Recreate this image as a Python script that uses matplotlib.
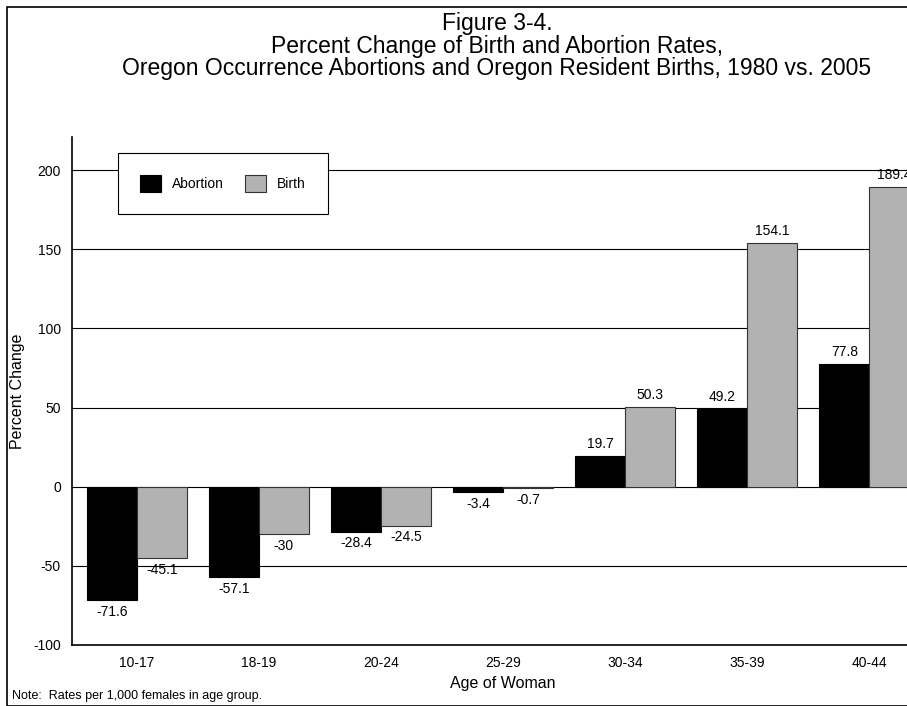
import matplotlib
matplotlib.use("Agg")
import matplotlib.pyplot as plt
from matplotlib.patches import Rectangle
import numpy as np

categories = ["10-17", "18-19", "20-24", "25-29", "30-34", "35-39", "40-44"]
abortion = [-71.6, -57.1, -28.4, -3.4, 19.7, 49.2, 77.8]
birth = [-45.1, -30, -24.5, -0.7, 50.3, 154.1, 189.4]
abortion_labels = ["-71.6", "-57.1", "-28.4", "-3.4", "19.7", "49.2", "77.8"]
birth_labels = ["-45.1", "-30", "-24.5", "-0.7", "50.3", "154.1", "189.4"]

plt.rcParams['font.family'] = ['Liberation Sans', 'DejaVu Sans']
plt.rcParams['axes.unicode_minus'] = False
W, H = 907, 706
fig = plt.figure(figsize=(W/100, H/100), dpi=100)
fig.patches.append(Rectangle((7/W, 0), 2, 1 - 7/H, transform=fig.transFigure,
                             fill=False, edgecolor='black', linewidth=1.2))
ax = fig.add_axes([72/W, 1-645/H, (934-72)/W, (645-137)/H])
x = np.arange(len(categories))
w = 0.41
ax.set_ylim(-100, 221)
ax.set_xlim(-0.53, 6.53)
for y in [-50, 0, 50, 100, 150, 200]:
    ax.axhline(y, color='black', linewidth=0.8, zorder=0)
ax.bar(x - w/2, abortion, w, color='black', edgecolor='black', linewidth=0.8, label='Abortion')
ax.bar(x + w/2, birth, w, color='#b2b2b2', edgecolor='#333333', linewidth=0.8, label='Birth')
for xi, v, t in zip(x, abortion, abortion_labels):
    ax.text(xi - w/2, v + (3 if v >= 0 else -3), t, ha='center', va='bottom' if v >= 0 else 'top', fontsize=10)
for xi, v, t in zip(x, birth, birth_labels):
    ax.text(xi + w/2, v + (3 if v >= 0 else -3), t, ha='center', va='bottom' if v >= 0 else 'top', fontsize=10)
ax.set_xticks(x)
ax.set_xticklabels(categories, fontsize=10)
ax.set_yticks([-100, -50, 0, 50, 100, 150, 200])
ax.tick_params(axis='both', length=0, labelsize=10, pad=8)
for s in ['top', 'right']:
    ax.spines[s].set_visible(False)
ax.spines['left'].set_linewidth(1.2)
ax.spines['bottom'].set_linewidth(1.2)
ax.set_ylabel("Percent Change", fontsize=11.5, labelpad=6)
ax.set_xlabel("Age of Woman", fontsize=11.5, labelpad=4)
leg = ax.legend(loc='upper left', bbox_to_anchor=((118-72)/862, (645-153)/508), ncol=2,
                fancybox=False, edgecolor='black', framealpha=1, fontsize=10,
                borderpad=1.6, handlelength=1.5, handleheight=1.5, columnspacing=1.5,
                borderaxespad=0)
leg.get_frame().set_linewidth(0.8)
fig.text(0.548, 1-12/H, "Figure 3-4.\nPercent Change of Birth and Abortion Rates,\nOregon Occurrence Abortions and Oregon Resident Births, 1980 vs. 2005",
         ha='center', va='top', fontsize=16.5, linespacing=0.98)
fig.text(12/W, 4/H, "Note:  Rates per 1,000 females in age group.", fontsize=9, ha='left', va='bottom')
fig.savefig("out.png", dpi=100)
